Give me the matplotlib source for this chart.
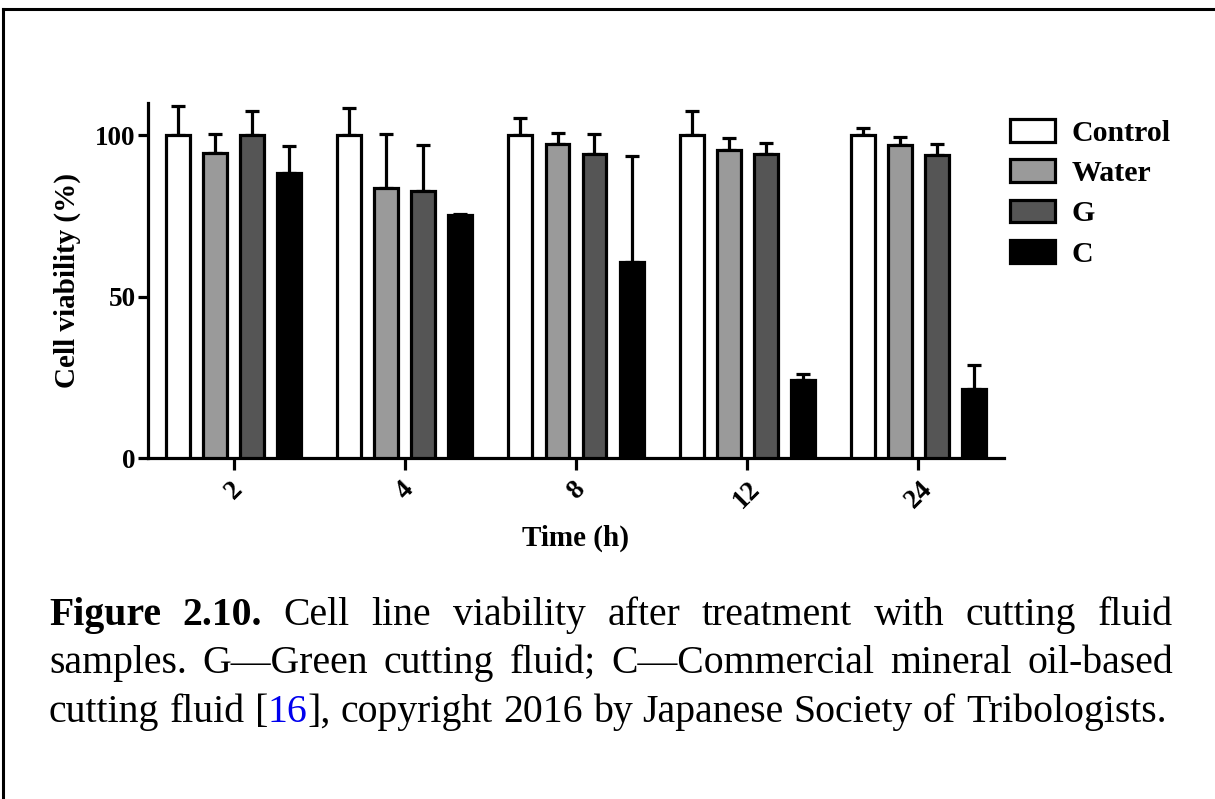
import matplotlib
matplotlib.use('Agg')
import matplotlib.pyplot as plt
import numpy as np
from matplotlib.lines import Line2D

plt.rcParams['font.family'] = ['Liberation Serif', 'DejaVu Serif']

#### data
times = ['2', '4', '8', '12', '24']
series = ['Control', 'Water', 'G', 'C']
control = [100, 100, 100, 100, 100.2]
control_err = [9.0, 8.4, 5.3, 7.6, 2.1]
water = [94.4, 83.7, 97.4, 95.3, 97.1]
water_err = [5.9, 16.6, 3.3, 3.9, 2.4]
green = [100, 82.7, 94.2, 94.2, 93.8]
green_err = [7.4, 14.4, 6.3, 3.4, 3.6]
commercial = [88.3, 75.2, 60.8, 24.3, 21.5]
commercial_err = [8.3, 0.4, 32.7, 1.8, 7.4]

values = [control, water, green, commercial]
errors = [control_err, water_err, green_err, commercial_err]
colors = ['white', '#9a9a9a', '#555555', 'black']

fig = plt.figure(figsize=(12.15, 7.99), dpi=100)
ax = fig.add_axes([148/1215, 1-458/799, (1004-148)/1215, (458-103)/799])

x = np.arange(len(times))
offsets = [-0.325, -0.108, 0.108, 0.325]
width = 0.14
lw = 2.3
for i in range(len(series)):
    ax.bar(x + offsets[i], values[i], width, color=colors[i], edgecolor='black',
           linewidth=lw, label=series[i], zorder=3)
    ax.errorbar(x + offsets[i], values[i], yerr=[np.zeros(len(times)), errors[i]],
                fmt='none', ecolor='black', elinewidth=lw, capsize=4.8, capthick=lw, zorder=2)

ax.set_xlim(-0.5, 4.5)
ax.set_ylim(0, 110)
ax.set_yticks([0, 50, 100])
ax.set_xticks(x)
ax.set_xticklabels(times, rotation=45, ha='center', va='top')
for s in ['top', 'right']:
    ax.spines[s].set_visible(False)
for s in ['left', 'bottom']:
    ax.spines[s].set_linewidth(lw)
ax.tick_params(axis='both', width=lw, labelsize=19.5)
ax.tick_params(axis='x', length=8.5, pad=5)
ax.tick_params(axis='y', length=7, pad=2)
for lab in ax.get_xticklabels() + ax.get_yticklabels():
    lab.set_fontweight('bold')
ax.set_ylabel('Cell viability (%)', fontsize=21, fontweight='bold', labelpad=10)
ax.set_xlabel('Time (h)', fontsize=21, fontweight='bold', labelpad=8)

leg = ax.legend(loc='upper left', bbox_to_anchor=(998/1215, 1-107/799), bbox_transform=fig.transFigure,
                frameon=False, prop={'weight': 'bold', 'size': 21.5}, handlelength=1.5, handleheight=0.8,
                labelspacing=0.42, handletextpad=0.55, borderaxespad=0)

#### frame lines of the page
fig.add_artist(Line2D([3/1215, 3/1215], [0, 1-9/799], transform=fig.transFigure, color='black', lw=2.2))
fig.add_artist(Line2D([3/1215, 1], [1-9/799, 1-9/799], transform=fig.transFigure, color='black', lw=2.2))

#### caption, justified
cap_size = 28.6
left_px, right_px = 49, 1173
line1 = [[('Figure', 'black', 'bold')], [('2.10.', 'black', 'bold')]] + \
    [[(w, 'black', 'normal')] for w in 'Cell line viability after treatment with cutting fluid'.split()]
line2 = [[(w, 'black', 'normal')] for w in 'samples. G\u2014Green cutting fluid; C\u2014Commercial mineral oil-based'.split()]
line3 = [[(w, 'black', 'normal')] for w in 'cutting fluid'.split()] + \
    [[('[', 'black', 'normal'), ('16', '#0000ee', 'normal'), ('],', 'black', 'normal')]] + \
    [[(w, 'black', 'normal')] for w in 'copyright 2016 by Japanese Society of Tribologists.'.split()]
caption = [(line1, 625, True), (line2, 673, True), (line3, 722, False)]

renderer = fig.canvas.get_renderer()
space_t = fig.text(0, 0, 'a a', fontsize=cap_size)
aa_t = fig.text(0, 0, 'aa', fontsize=cap_size)
space_w = space_t.get_window_extent(renderer).width - aa_t.get_window_extent(renderer).width
space_t.remove()
aa_t.remove()

for words, base_y, justify in caption:
    made = []
    total = 0
    for word in words:
        parts = []
        wwidth = 0
        for txt, col, wt in word:
            t = fig.text(0, 1 - base_y/799, txt, fontsize=cap_size, color=col, fontweight=wt,
                         va='baseline', ha='left')
            w = t.get_window_extent(renderer).width
            parts.append((t, w))
            wwidth += w
        made.append(parts)
        total += wwidth
    gap = (right_px - left_px - total) / (len(words) - 1) if justify else space_w
    xpos = left_px
    for parts in made:
        for t, w in parts:
            t.set_x(xpos / 1215)
            xpos += w
        xpos += gap

fig.savefig('out.png', dpi=100)
